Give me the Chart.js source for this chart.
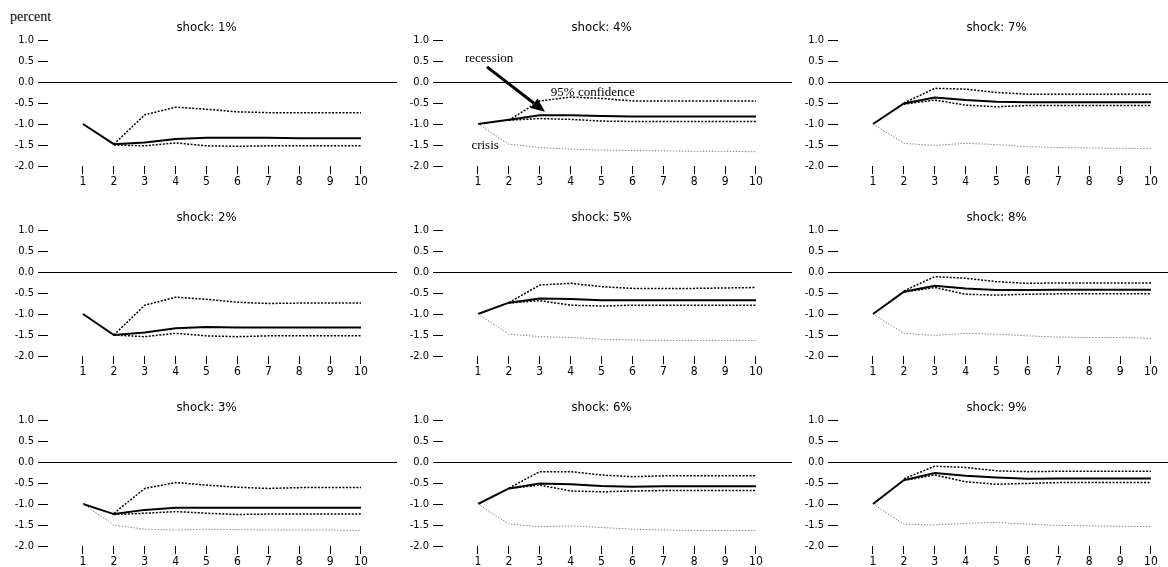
<!DOCTYPE html>
<html>
<head>
<meta charset="utf-8">
<script src="https://cdn.jsdelivr.net/npm/chart.js@4"></script>
<style>
  body { margin: 0; width: 1168px; height: 567px; background: #fff; overflow: hidden; position: relative; }
  canvas { position: absolute; }
  #unit { position: absolute; left: 10px; top: 9px; font: 14px 'Liberation Serif', 'Times New Roman', serif; color: #000; }
</style>
</head>
<body>
<div id="unit">percent</div>
<script>
// periods after the shock and the shock sizes (one panel each)
const periods = [1, 2, 3, 4, 5, 6, 7, 8, 9, 10];
const shocks = ['1%', '2%', '3%', '4%', '5%', '6%', '7%', '8%', '9%'];
const yTicks = [1.0, 0.5, 0.0, -0.5, -1.0, -1.5, -2.0];

// recession response (solid line), one row per shock
const recessionMean = [
  [-1.0, -1.48, -1.44, -1.36, -1.33, -1.33, -1.33, -1.34, -1.34, -1.34],
  [-1.0, -1.50, -1.44, -1.34, -1.31, -1.32, -1.32, -1.32, -1.32, -1.32],
  [-1.0, -1.24, -1.14, -1.09, -1.09, -1.09, -1.09, -1.09, -1.09, -1.09],
  [-1.0, -0.90, -0.79, -0.79, -0.81, -0.82, -0.82, -0.82, -0.82, -0.82],
  [-1.0, -0.73, -0.63, -0.64, -0.67, -0.67, -0.67, -0.67, -0.67, -0.67],
  [-1.0, -0.63, -0.51, -0.53, -0.57, -0.59, -0.58, -0.58, -0.58, -0.58],
  [-1.0, -0.51, -0.37, -0.43, -0.47, -0.48, -0.48, -0.48, -0.48, -0.48],
  [-1.0, -0.47, -0.33, -0.39, -0.43, -0.43, -0.42, -0.42, -0.42, -0.42],
  [-1.0, -0.43, -0.26, -0.33, -0.37, -0.40, -0.39, -0.39, -0.39, -0.39]
];

// 95% confidence band around the recession response
const upperBand = [
  [null, -1.48, -0.78, -0.60, -0.65, -0.71, -0.73, -0.73, -0.73, -0.73],
  [null, -1.50, -0.79, -0.60, -0.65, -0.72, -0.75, -0.74, -0.74, -0.74],
  [null, -1.22, -0.63, -0.49, -0.55, -0.60, -0.63, -0.61, -0.61, -0.61],
  [null, -0.91, -0.45, -0.36, -0.39, -0.45, -0.45, -0.45, -0.45, -0.45],
  [null, -0.73, -0.31, -0.27, -0.35, -0.39, -0.39, -0.39, -0.38, -0.37],
  [null, -0.62, -0.23, -0.23, -0.31, -0.35, -0.33, -0.33, -0.33, -0.33],
  [null, -0.50, -0.15, -0.17, -0.25, -0.29, -0.29, -0.29, -0.29, -0.29],
  [null, -0.45, -0.11, -0.15, -0.23, -0.27, -0.26, -0.26, -0.26, -0.26],
  [null, -0.40, -0.10, -0.13, -0.21, -0.23, -0.22, -0.22, -0.22, -0.22]
];
const lowerBand = [
  [null, -1.50, -1.52, -1.45, -1.52, -1.53, -1.52, -1.52, -1.52, -1.52],
  [null, -1.50, -1.54, -1.46, -1.52, -1.54, -1.52, -1.52, -1.52, -1.52],
  [null, -1.25, -1.22, -1.18, -1.22, -1.25, -1.24, -1.24, -1.24, -1.24],
  [null, -0.91, -0.87, -0.89, -0.93, -0.94, -0.94, -0.94, -0.94, -0.94],
  [null, -0.74, -0.68, -0.79, -0.81, -0.79, -0.79, -0.79, -0.79, -0.79],
  [null, -0.63, -0.55, -0.69, -0.71, -0.69, -0.68, -0.68, -0.68, -0.68],
  [null, -0.53, -0.43, -0.55, -0.59, -0.56, -0.56, -0.56, -0.56, -0.56],
  [null, -0.48, -0.37, -0.53, -0.55, -0.53, -0.52, -0.52, -0.52, -0.52],
  [null, -0.44, -0.31, -0.47, -0.53, -0.51, -0.49, -0.49, -0.49, -0.49]
];

// crisis response (thin grey line); not visible in the first two panels
const crisisMean = [
  null,
  null,
  [-1.0, -1.50, -1.60, -1.62, -1.60, -1.61, -1.62, -1.62, -1.62, -1.63],
  [-1.0, -1.48, -1.56, -1.60, -1.62, -1.63, -1.64, -1.65, -1.65, -1.66],
  [-1.0, -1.48, -1.54, -1.56, -1.60, -1.62, -1.63, -1.63, -1.63, -1.63],
  [-1.0, -1.48, -1.54, -1.52, -1.56, -1.60, -1.62, -1.63, -1.63, -1.63],
  [-1.0, -1.46, -1.51, -1.46, -1.49, -1.54, -1.56, -1.57, -1.58, -1.59],
  [-1.0, -1.46, -1.51, -1.46, -1.48, -1.52, -1.55, -1.56, -1.56, -1.58],
  [-1.0, -1.48, -1.50, -1.46, -1.44, -1.48, -1.51, -1.52, -1.53, -1.54]
];

const sansFont = "'Liberation Sans Narrow', 'Arial Narrow', 'DejaVu Sans Condensed', sans-serif";
const serifFont = "'Liberation Serif', 'Times New Roman', serif";

function points(values) {
  return periods.map((p, i) => ({ x: p, y: values[i] }));
}

// panel title plus the labels drawn on the 4% panel
const panelText = {
  id: 'panelText',
  afterDraw(chart) {
    const { ctx, scales } = chart;
    const x = scales.x, y = scales.y;
    ctx.save();
    ctx.fillStyle = '#000';
    ctx.textAlign = 'center';
    ctx.textBaseline = 'middle';
    ctx.font = '13px ' + sansFont;
    ctx.fillText('shock: ' + chart.options.plugins.panelText.shock, x.getPixelForValue(5), 28);

    if (chart.options.plugins.panelText.notes) {
      ctx.font = '13px ' + serifFont;
      ctx.fillText('recession', x.getPixelForValue(1.36), y.getPixelForValue(0.55));
      ctx.fillText('crisis', x.getPixelForValue(1.23), y.getPixelForValue(-1.52));
      ctx.fillText('95% confidence', x.getPixelForValue(4.72), y.getPixelForValue(-0.26));

      // arrow from "recession" to the solid line
      const x0 = x.getPixelForValue(1.29), y0 = y.getPixelForValue(0.36);
      const x1 = x.getPixelForValue(3.17), y1 = y.getPixelForValue(-0.71);
      const ang = Math.atan2(y1 - y0, x1 - x0);
      const head = 14, half = 6;
      const bx = x1 - head * Math.cos(ang), by = y1 - head * Math.sin(ang);
      ctx.strokeStyle = '#000';
      ctx.lineWidth = 3;
      ctx.beginPath();
      ctx.moveTo(x0, y0);
      ctx.lineTo(bx, by);
      ctx.stroke();
      ctx.beginPath();
      ctx.moveTo(x1, y1);
      ctx.lineTo(bx + half * Math.sin(ang), by - half * Math.cos(ang));
      ctx.lineTo(bx - half * Math.sin(ang), by + half * Math.cos(ang));
      ctx.closePath();
      ctx.fill();
    }
    ctx.restore();
  }
};

shocks.forEach((shock, i) => {
  const col = Math.floor(i / 3), row = i % 3;
  const canvas = document.createElement('canvas');
  canvas.width = 400;
  canvas.height = 190;
  canvas.style.left = (col * 395) + 'px';
  canvas.style.top = (row * 190) + 'px';
  document.body.appendChild(canvas);

  const datasets = [];
  if (crisisMean[i]) {
    datasets.push({
      data: points(crisisMean[i]),
      borderColor: '#8a8a8a',
      borderWidth: 1,
      borderDash: [1.5, 1.5]
    });
  }
  datasets.push({
    data: points(upperBand[i]),
    borderColor: '#000',
    borderWidth: 1.5,
    borderDash: [2, 1.5]
  });
  datasets.push({
    data: points(lowerBand[i]),
    borderColor: '#000',
    borderWidth: 1.5,
    borderDash: [2, 1.5]
  });
  datasets.push({
    data: points(recessionMean[i]),
    borderColor: '#000',
    borderWidth: 2
  });

  new Chart(canvas, {
    type: 'line',
    data: { datasets: datasets },
    options: {
      responsive: false,
      animation: false,
      devicePixelRatio: 1,
      layout: { padding: { top: 40, right: 3, left: 0, bottom: 0 } },
      elements: { point: { radius: 0 }, line: { tension: 0 } },
      plugins: {
        legend: { display: false },
        tooltip: { enabled: false },
        panelText: { shock: shock, notes: shock === '4%' }
      },
      scales: {
        x: {
          type: 'linear',
          min: -0.133,
          max: 11.166,
          afterBuildTicks: (scale) => { scale.ticks = periods.map(v => ({ value: v })); },
          afterFit: (scale) => { scale.height = 24; },
          border: { display: false },
          grid: { drawOnChartArea: false, drawTicks: true, tickLength: 8, color: '#000' },
          ticks: { color: '#000', font: { family: sansFont, size: 12 }, padding: 1, maxRotation: 0, autoSkip: false }
        },
        y: {
          min: -2,
          max: 1,
          afterBuildTicks: (scale) => { scale.ticks = yTicks.map(v => ({ value: v })); },
          afterFit: (scale) => { scale.width = 48; },
          border: { display: false },
          grid: {
            drawTicks: true,
            tickLength: 10,
            color: (c) => (c.tick && c.tick.value === 0 ? '#000' : 'rgba(0,0,0,0)'),
            tickColor: '#000',
            lineWidth: 1
          },
          ticks: {
            color: '#000',
            font: { family: sansFont, size: 11 },
            padding: 4,
            callback: (v) => v.toFixed(1)
          }
        }
      }
    },
    plugins: [panelText]
  });
});
</script>
</body>
</html>
